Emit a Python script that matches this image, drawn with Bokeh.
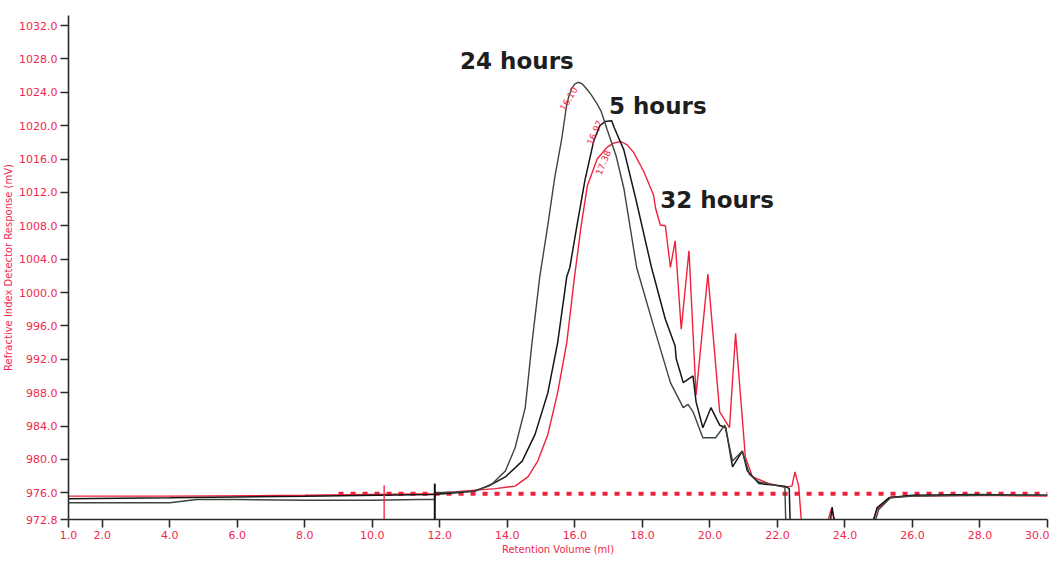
from bokeh.plotting import figure
from bokeh.models import Range1d, FixedTicker, PrintfTickFormatter, Label
from bokeh.embed import file_html
from bokeh.resources import INLINE

# ---------------- data ----------------
x_24h = [1.0, 4.0, 4.8, 6.0, 8.0, 10.0, 11.4, 11.85, 11.86, 12.5, 13.06, 13.56, 13.94, 14.23, 14.53,
         14.73, 14.96, 15.2, 15.4, 15.61, 15.75, 15.82, 15.9, 16.0, 16.1, 16.22, 16.37, 16.5, 16.63,
         16.78, 16.95, 17.22, 17.45, 17.83, 18.33, 18.83, 19.21, 19.35, 19.5, 19.79, 20.17, 20.44,
         20.67, 20.96, 21.17, 21.46, 22.05, 22.22, 22.25, 24.85, 25.0, 25.35, 26.0, 28.0, 30.0]
y_24h = [974.8, 974.8, 975.2, 975.2, 975.1, 975.1, 975.2, 975.2, 976.0, 976.1, 976.2, 977.1, 978.6,
         981.4, 986.2, 994.0, 1001.9, 1008.1, 1013.7, 1018.4, 1022.3, 1023.5, 1024.4, 1025.0,
         1025.2, 1025.0, 1024.3, 1023.6, 1022.8, 1021.7, 1019.6, 1016.4, 1012.5, 1003.0, 996.0,
         989.2, 986.2, 986.6, 985.7, 982.6, 982.6, 984.1, 979.8, 981.0, 978.2, 977.3, 976.8, 976.7,
         972.0, 972.0, 974.0, 975.4, 975.6, 975.7, 975.7]

x_5h = [1.0, 4.0, 8.0, 11.8, 12.5, 13.0, 13.44, 13.94, 14.44, 14.82, 15.2, 15.49, 15.76, 15.85,
        16.06, 16.3, 16.56, 16.74, 16.9, 17.09, 17.16, 17.45, 17.8, 18.27, 18.68, 18.97, 19.0,
        19.21, 19.5, 19.59, 19.79, 20.03, 20.29, 20.47, 20.67, 20.96, 21.11, 21.46, 22.22, 22.35,
        22.38, 23.55, 23.62, 23.7, 24.8, 24.95, 25.3, 26.0, 28.0, 30.0]
y_5h = [975.3, 975.4, 975.6, 975.8, 976.0, 976.2, 976.8, 977.9, 979.8, 983.0, 988.0, 994.0, 1001.9,
        1003.0, 1008.0, 1013.5, 1018.2, 1020.0, 1020.5, 1020.6, 1019.8, 1017.1, 1011.3, 1003.0,
        996.8, 993.6, 992.1, 989.2, 990.0, 986.9, 983.8, 986.2, 984.1, 983.8, 979.1, 981.0, 978.6,
        977.1, 976.8, 976.5, 972.0, 972.0, 974.3, 972.0, 972.0, 974.2, 975.4, 975.7, 975.8, 975.7]

x_32h = [1.0, 4.0, 8.0, 12.0, 12.68, 13.65, 14.23, 14.61, 14.9, 15.2, 15.49, 15.76, 15.99, 16.19,
         16.37, 16.66, 16.95, 17.15, 17.36, 17.55, 17.74, 18.04, 18.33, 18.39, 18.53, 18.68, 18.83,
         18.97, 19.15, 19.38, 19.59, 19.94, 20.29, 20.58, 20.76, 21.05, 21.26, 21.75, 22.22, 22.43,
         22.52, 22.63, 22.72, 23.45, 23.6, 23.75, 24.77, 24.95, 25.35, 26.0, 28.0, 30.0]
y_32h = [975.6, 975.6, 975.7, 975.9, 976.2, 976.5, 976.8, 977.9, 979.8, 983.0, 988.0, 994.0,
         1001.9, 1008.1, 1012.8, 1016.0, 1017.4, 1017.9, 1018.1, 1017.7, 1016.8, 1014.5, 1011.7,
         1010.1, 1008.1, 1008.0, 1003.0, 1006.2, 995.6, 1005.0, 987.7, 1002.2, 985.7, 983.8,
         995.1, 980.3, 977.9, 977.1, 976.7, 976.8, 978.5, 976.8, 972.0, 972.0, 974.1, 972.0, 972.0,
         974.0, 975.5, 975.6, 975.7, 975.6]

baseline_x = [9.0, 30.0]
baseline_y = [975.9, 975.9]

marker_red_x = [10.35]
marker_black_x = [11.85]
marker_top = [976.9, 977.1]

x_ticks = [1.0, 2.0, 4.0, 6.0, 8.0, 10.0, 12.0, 14.0, 16.0, 18.0, 20.0, 22.0, 24.0, 26.0, 28.0, 30.0]
y_ticks = [972.8, 976.0, 980.0, 984.0, 988.0, 992.0, 996.0, 1000.0, 1004.0, 1008.0, 1012.0,
           1016.0, 1020.0, 1024.0, 1028.0, 1032.0]

peak_labels = ["16.10", "16.97", "17.38"]
series_names = ["24 hours", "5 hours", "32 hours"]

RED = "#f0203c"
LABEL_RED = "#f0284e"

p = figure(width=1049, height=557, output_backend="svg", toolbar_location=None,
           x_range=Range1d(1.0, 30.0), y_range=Range1d(972.8, 1033.2),
           min_border_left=60, min_border_right=2, min_border_top=15, min_border_bottom=36)
p.outline_line_color = None
p.xgrid.visible = False
p.ygrid.visible = False
p.background_fill_color = "white"
p.border_fill_color = "white"

# baseline dotted line
p.line(baseline_x, baseline_y, line_color=RED, line_width=4, line_dash="5 7")

# curves
p.line(x_32h, y_32h, line_color=RED, line_width=1.4)
p.line(x_5h, y_5h, line_color="#161616", line_width=1.5)
p.line(x_24h, y_24h, line_color="#3b463b", line_width=1.4)

# vertical markers
p.segment(x0=marker_red_x, y0=[972.8], x1=marker_red_x, y1=[marker_top[0]], line_color=RED, line_width=1.3)
p.segment(x0=marker_black_x, y0=[972.8], x1=marker_black_x, y1=[marker_top[1]], line_color="#111111", line_width=2)

# axes
for ax in (p.xaxis[0], p.yaxis[0]):
    ax.axis_line_color = "#2a2a2a"
    ax.axis_line_width = 1.6
    ax.major_tick_line_color = "#2a2a2a"
    ax.major_tick_line_width = 1.6
    ax.major_tick_in = 0
    ax.major_tick_out = 8
    ax.minor_tick_line_color = None
    ax.major_label_text_color = LABEL_RED
    ax.major_label_text_font = "DejaVu Sans"
    ax.major_label_text_font_size = "11px"
    ax.axis_label_text_color = LABEL_RED
    ax.axis_label_text_font = "DejaVu Sans"
    ax.axis_label_text_font_size = "10px"
    ax.axis_label_text_font_style = "normal"
    ax.major_label_standoff = 3
    ax.axis_label_standoff = 2

p.xaxis.ticker = FixedTicker(ticks=x_ticks)
p.yaxis.ticker = FixedTicker(ticks=y_ticks)
p.xaxis.formatter = PrintfTickFormatter(format="%.1f")
p.yaxis.formatter = PrintfTickFormatter(format="%.1f")
p.xaxis.axis_label = "Retention Volume (ml)"
p.yaxis.axis_label = "Refractive Index Detector Response (mV)"

# series annotations
for name, (lx, ly) in zip(series_names, [(12.6, 1029.3), (17.01, 1023.9), (18.53, 1012.7)]):
    p.add_layout(Label(x=lx, y=ly, text=name, text_font="DejaVu Sans", text_font_style="bold",
                       text_font_size="23px", text_color="#1e1e1e", text_baseline="top"))

# small rotated peak labels
for txt, (lx, ly, ang) in zip(peak_labels, [(15.7, 1021.7, 1.03), (16.52, 1017.6, 1.15), (16.78, 1014.0, 1.17)]):
    p.add_layout(Label(x=lx, y=ly, text=txt, angle=ang, text_font="DejaVu Sans",
                       text_font_size="9px", text_color=RED, text_baseline="bottom"))

open("out.html", "w").write(file_html(p, INLINE))
